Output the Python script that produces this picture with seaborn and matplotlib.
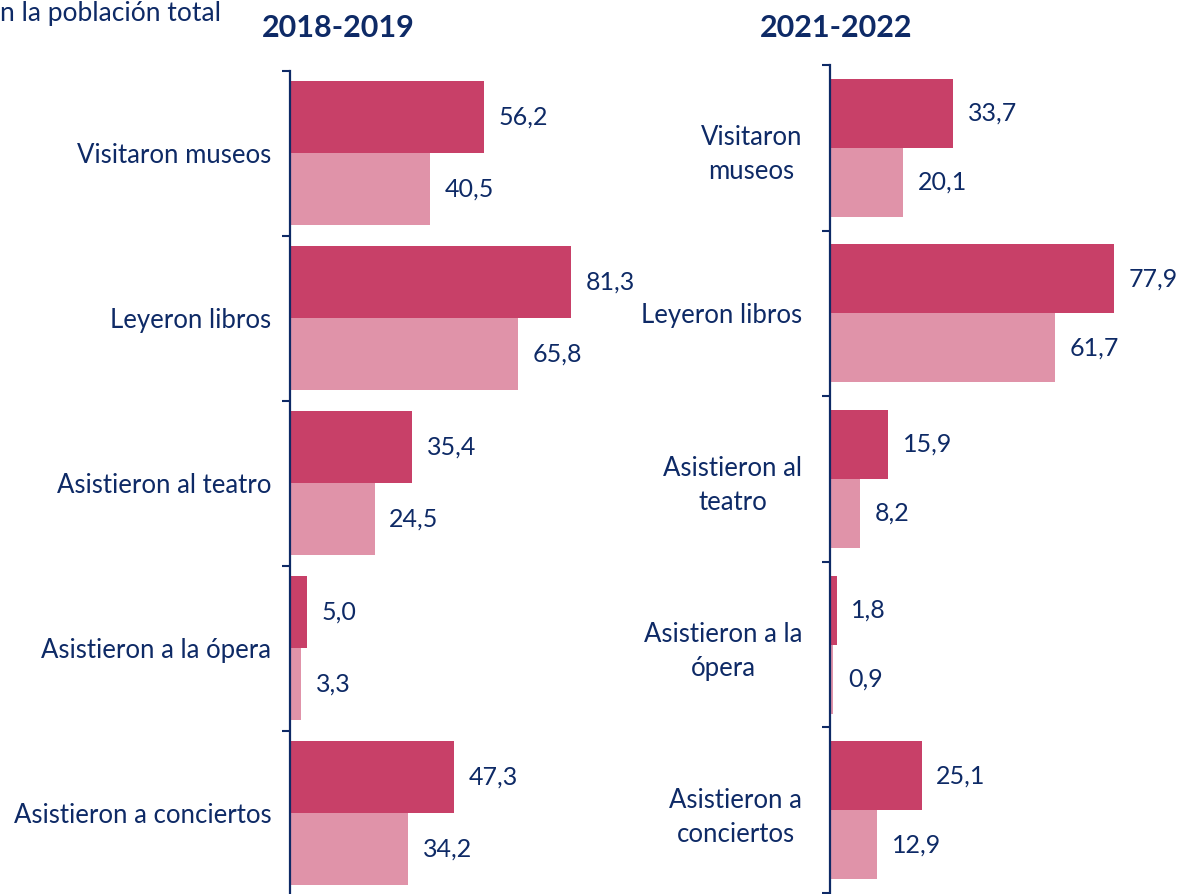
import numpy as np
import pandas as pd
import matplotlib
matplotlib.use("Agg")
import matplotlib.pyplot as plt
import seaborn as sns

# Data: percentage of the population taking part in each cultural activity
categorias = ["Visitaron museos", "Leyeron libros", "Asistieron al teatro",
              "Asistieron a la ópera", "Asistieron a conciertos"]
categorias_cortas = ["Visitaron\nmuseos", "Leyeron libros", "Asistieron al\nteatro",
                     "Asistieron a la\nópera", "Asistieron a\nconciertos"]
series = ["Serie A", "Serie B"]
periodo_1 = "2018-2019"
periodo_1_a = [56.2, 81.3, 35.4, 5.0, 47.3]
periodo_1_b = [40.5, 65.8, 24.5, 3.3, 34.2]
periodo_2 = "2021-2022"
periodo_2_a = [33.7, 77.9, 15.9, 1.8, 25.1]
periodo_2_b = [20.1, 61.7, 8.2, 0.9, 12.9]
subtitulo = "n la población total"

sns.set_theme(style="white")
plt.rcParams["font.family"] = ["Lato", "DejaVu Sans"]

NAVY = "#0E2A66"
COLORES = ["#C84068", "#E093A9"]

W, H = 1182, 894
fig = plt.figure(figsize=(W / 100, H / 100), dpi=100)


def tabla(a, b):
    return pd.DataFrame({
        "categoria": list(range(len(a))) * 2,
        "valor": list(a) + list(b),
        "serie": [series[0]] * len(a) + [series[1]] * len(b),
    })


def panel(rect, a, b, etiquetas, titulo, titulo_x, ancho, pad):
    ax = fig.add_axes(rect)
    df = tabla(a, b)
    sns.barplot(data=df, y="categoria", x="valor", hue="serie", orient="h",
                hue_order=series, palette=COLORES, saturation=1, width=ancho,
                linewidth=0, legend=False, ax=ax, native_scale=False)
    ax.set_xlim(0, 90)
    ax.set_ylim(len(etiquetas) - 0.5, -0.5)
    ax.set_yticks(range(len(etiquetas)))
    ax.set_yticklabels(etiquetas, fontsize=18.5, color=NAVY, ha="center",
                       multialignment="center", linespacing=1.45)
    ax.set_yticks(np.arange(-0.5, len(etiquetas), 1.0), minor=True)
    ax.tick_params(axis="y", which="major", length=0, pad=pad)
    ax.tick_params(axis="y", which="minor", length=5.5, width=1.5,
                   color=NAVY, direction="out", left=True)
    ax.set_xticks([])
    ax.set_xlabel("")
    ax.set_ylabel("")
    for s in ["top", "right", "bottom"]:
        ax.spines[s].set_visible(False)
    ax.spines["left"].set_color(NAVY)
    ax.spines["left"].set_linewidth(1.6)
    for cont in ax.containers:
        vals = cont.datavalues
        ax.bar_label(cont, labels=[f"{v:.1f}".replace(".", ",") for v in vals],
                     padding=10.5, fontsize=18, color=NAVY)
    fig.text(titulo_x / W, 1 - 28 / H, titulo, ha="center", va="center",
             fontsize=22, fontweight="bold", color=NAVY)
    fig.canvas.draw()
    for t in ax.get_yticklabels():
        t.set_ha("right")
    return ax


# left panel: axis at x=290px, 3.46 px per unit, rows from y=70.5 to 895.5
panel([290 / W, -1.5 / H, 90 * 3.46 / W, 825 / H],
      periodo_1_a, periodo_1_b, categorias, periodo_1, 338, 0.873, 13.5)
# right panel: axis at x=830px, 3.65 px per unit, rows from y=65 to 893
panel([830 / W, 1 / H, 90 * 3.65 / W, 828 / H],
      periodo_2_a, periodo_2_b, categorias_cortas, periodo_2, 836, 0.834, 20)

fig.text(0, 1 - 1 / H, subtitulo, ha="left", va="top", fontsize=19, color=NAVY)

fig.savefig("out.png", dpi=100)
